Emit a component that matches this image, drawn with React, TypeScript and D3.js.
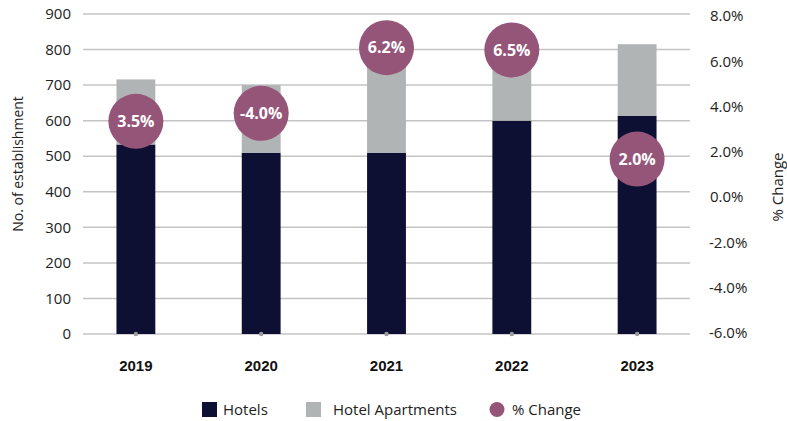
import * as d3 from 'd3';
import { useEffect, useRef } from 'react';

const years = ['2019', '2020', '2021', '2022', '2023'];
const hotels = [533, 510, 510, 600, 614];
const hotelApartments = [183, 190, 280, 200, 201];
const pctChange = [3.5, -4.0, 6.2, 6.5, 2.0];
// where the badge sits on the right (% change) axis
const badgeAt = [3.35, 3.7, 6.6, 6.5, 1.68];
const leftTicks = [0, 100, 200, 300, 400, 500, 600, 700, 800, 900];
const rightTicks = [-6, -4, -2, 0, 2, 4, 6, 8];

const DARK = '#0e1033';
const GREY = '#b1b4b4';
const PLUM = '#955579';

const App = () => {
    const svgRef = useRef<SVGSVGElement | null>(null);

    useEffect(() => {
        const width = 787;
        const height = 421;
        const svg = d3.select(svgRef.current);
        svg.selectAll('*').remove();
        svg.attr('width', width).attr('height', height);

        const left = 83;
        const right = 690;
        const top = 14;
        const bottom = 334;

        const x = d3.scaleBand().domain(years).range([left, right]).paddingInner(0.69).paddingOuter(0.267);
        const y = d3.scaleLinear().domain([0, 900]).range([bottom, top]);
        const y2 = d3.scaleLinear().domain([-6, 8]).range([bottom - 1, top + 2]);

        const font = '"Open Sans", Lato, sans-serif';

        // gridlines
        svg.append('g')
            .selectAll('line')
            .data(leftTicks)
            .enter()
            .append('line')
            .attr('x1', left)
            .attr('x2', right)
            .attr('y1', (d) => y(d))
            .attr('y2', (d) => y(d))
            .attr('stroke', '#c4c4c4')
            .attr('stroke-width', 1.5);

        // left ticks
        svg.append('g')
            .selectAll('text')
            .data(leftTicks)
            .enter()
            .append('text')
            .attr('x', 71)
            .attr('y', (d) => y(d))
            .attr('dy', '0.35em')
            .attr('text-anchor', 'end')
            .style('font-family', font)
            .style('font-size', '15px')
            .style('fill', '#222')
            .text((d) => d);

        // right ticks
        svg.append('g')
            .selectAll('text')
            .data(rightTicks)
            .enter()
            .append('text')
            .attr('x', (d) => (d < 0 ? 709 : 710))
            .attr('y', (d) => y2(d))
            .attr('dy', '0.35em')
            .style('font-family', font)
            .style('font-size', '15px')
            .style('fill', '#222')
            .text((d) => `${d.toFixed(1)}%`);

        // axis titles
        svg.append('text')
            .attr('transform', 'translate(23,164) rotate(-90)')
            .attr('text-anchor', 'middle')
            .style('font-family', font)
            .style('font-size', '14px')
            .style('fill', '#222')
            .text('No. of establishment');
        svg.append('text')
            .attr('transform', 'translate(783,187) rotate(-90)')
            .attr('text-anchor', 'middle')
            .style('font-family', font)
            .style('font-size', '15px')
            .style('fill', '#222')
            .text('% Change');

        // stacked bars
        const rows = years.map((yr, i) => ({ yr, hotels: hotels[i], apts: hotelApartments[i] }));
        const stack = d3.stack<any>().keys(['hotels', 'apts'])(rows);
        const colors = [DARK, GREY];
        stack.forEach((layer, li) => {
            svg.append('g')
                .selectAll('rect')
                .data(layer)
                .enter()
                .append('rect')
                .attr('x', (d) => x(d.data.yr) as number)
                .attr('width', x.bandwidth())
                .attr('y', (d) => y(d[1]))
                .attr('height', (d) => y(d[0]) - y(d[1]))
                .attr('fill', colors[li]);
        });

        // small markers on the baseline
        svg.append('g')
            .selectAll('circle')
            .data(years)
            .enter()
            .append('circle')
            .attr('cx', (d) => (x(d) as number) + x.bandwidth() / 2)
            .attr('cy', y(0))
            .attr('r', 2.2)
            .attr('fill', '#9a9a9a');

        // year labels
        svg.append('g')
            .selectAll('text')
            .data(years)
            .enter()
            .append('text')
            .attr('x', (d) => (x(d) as number) + x.bandwidth() / 2)
            .attr('y', 371)
            .attr('text-anchor', 'middle')
            .style('font-family', '"Liberation Sans", Arial, sans-serif')
            .style('font-weight', 'bold')
            .style('font-size', '15px')
            .style('fill', '#111')
            .text((d) => d);

        // % change badges
        const badges = svg.append('g')
            .selectAll('g')
            .data(years)
            .enter()
            .append('g')
            .attr('transform', (d, i) => `translate(${(x(d) as number) + x.bandwidth() / 2},${y2(badgeAt[i])})`);
        badges.append('circle').attr('r', 27.5).attr('fill', PLUM);
        badges.append('text')
            .attr('text-anchor', 'middle')
            .attr('dy', '0.36em')
            .style('font-family', font)
            .style('font-weight', 'bold')
            .style('font-size', '16px')
            .style('fill', '#fff')
            .text((d, i) => `${pctChange[i].toFixed(1)}%`);

        // legend
        const legend = svg.append('g').style('font-family', font).style('font-size', '15px').style('fill', '#222');
        legend.append('rect').attr('x', 202).attr('y', 402).attr('width', 15).attr('height', 15).attr('fill', DARK);
        legend.append('text').attr('x', 223).attr('y', 415).text('Hotels');
        legend.append('rect').attr('x', 306).attr('y', 402).attr('width', 15).attr('height', 15).attr('fill', GREY);
        legend.append('text').attr('x', 333).attr('y', 415).text('Hotel Apartments');
        legend.append('circle').attr('cx', 497).attr('cy', 409.5).attr('r', 7.5).attr('fill', PLUM);
        legend.append('text').attr('x', 512).attr('y', 415).text('% Change');
    }, []);

    return <svg ref={svgRef} style={{ position: 'absolute', left: 0, top: 0 }} />;
};

export default App;
